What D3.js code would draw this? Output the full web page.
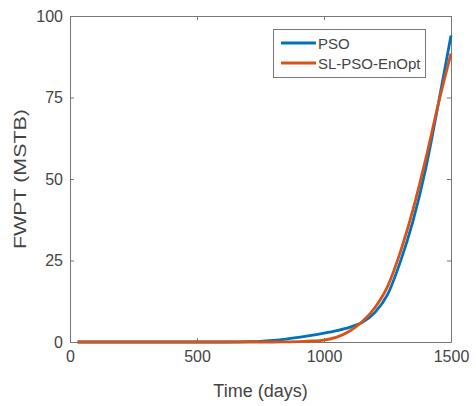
<!DOCTYPE html>
<html>
<head>
<meta charset="utf-8">
<script src="https://cdn.jsdelivr.net/npm/d3@7"></script>
<style>
  body { margin: 0; background: #fff; }
  svg text { font-family: "Liberation Sans", Arial, sans-serif; fill: #444; }
</style>
</head>
<body>
<svg id="chart" width="476" height="406"></svg>
<script>
// time axis (days) shared by both runs
var days  = [30, 200, 400, 600, 700, 750, 800, 850, 900, 950, 1000, 1050, 1100, 1150, 1200, 1250, 1300, 1350, 1400, 1450, 1500]
// FWPT in MSTB
var pso   = [0, 0, 0, 0, 0.1, 0.2, 0.5, 0.9, 1.4, 2.0, 2.7, 3.5, 4.5, 6.0, 9.0, 14.5, 24.5, 37, 53, 73, 94]
var slpso = [0, 0, 0, 0, 0, 0, 0, 0.05, 0.1, 0.3, 0.6, 1.5, 3.3, 6.2, 10.5, 17, 27.5, 40.5, 56, 73, 88.5]

var seriesNames = ["PSO", "SL-PSO-EnOpt"]
var seriesColors = ["#0072BD", "#D95319"]
var xTicks = [0, 500, 1000, 1500]
var yTicks = [0, 25, 50, 75, 100]

var plotL = 70, plotR = 451, plotT = 16, plotB = 342
var svg = d3.select("#chart")

var x = d3.scaleLinear().domain([0, 1500]).range([plotL, plotR])
var y = d3.scaleLinear().domain([0, 100]).range([plotB, plotT])

var axisColor = "#777"
var fmt = d3.format("d")

// bottom axis, ticks inside
var gx = svg.append("g")
  .attr("transform", "translate(0," + plotB + ")")
  .call(d3.axisBottom(x).tickValues(xTicks).tickFormat(fmt).tickSize(-4).tickPadding(9).tickSizeOuter(0))
gx.selectAll("text").attr("font-size", 16).attr("fill", "#444")

// top axis, ticks only
svg.append("g")
  .attr("transform", "translate(0," + plotT + ")")
  .call(d3.axisTop(x).tickValues(xTicks).tickSize(-4).tickFormat("").tickSizeOuter(0))

// left axis
var gy = svg.append("g")
  .attr("transform", "translate(" + plotL + ",0)")
  .call(d3.axisLeft(y).tickValues(yTicks).tickFormat(fmt).tickSize(-4).tickPadding(7).tickSizeOuter(0))
gy.selectAll("text").attr("font-size", 16).attr("fill", "#444")

// right axis, ticks only
svg.append("g")
  .attr("transform", "translate(" + plotR + ",0)")
  .call(d3.axisRight(y).tickValues(yTicks).tickSize(-4).tickFormat("").tickSizeOuter(0))

svg.selectAll(".domain").attr("stroke", axisColor)
svg.selectAll(".tick line").attr("stroke", axisColor)

// axis labels
svg.append("text")
  .attr("x", (plotL + plotR) / 2)
  .attr("y", 397)
  .attr("text-anchor", "middle")
  .attr("font-size", 18)
  .text("Time (days)")

svg.append("text")
  .attr("transform", "translate(26," + ((plotT + plotB) / 2) + ") rotate(-90)")
  .attr("text-anchor", "middle")
  .attr("font-size", 16)
  .attr("textLength", 140)
  .attr("lengthAdjust", "spacingAndGlyphs")
  .text("FWPT (MSTB)")

// lines
var line = d3.line()
  .x(function (d) { return x(d[0]) })
  .y(function (d) { return y(d[1]) })
  .curve(d3.curveMonotoneX)

var series = [pso, slpso]
series.forEach(function (vals, i) {
  svg.append("path")
    .datum(days.map(function (t, j) { return [t, vals[j]] }))
    .attr("fill", "none")
    .attr("stroke", seriesColors[i])
    .attr("stroke-width", 2.8)
    .attr("d", line)
})

// legend
var lg = svg.append("g")
lg.append("rect")
  .attr("x", 273.5).attr("y", 29.5)
  .attr("width", 152).attr("height", 48)
  .attr("fill", "#fff")
  .attr("stroke", axisColor)

seriesNames.forEach(function (name, i) {
  var ly = 43 + i * 20
  lg.append("line")
    .attr("x1", 281).attr("x2", 316)
    .attr("y1", ly).attr("y2", ly)
    .attr("stroke", seriesColors[i])
    .attr("stroke-width", 2.8)
  lg.append("text")
    .attr("x", 318)
    .attr("y", ly + 6)
    .attr("font-size", 15)
    .text(name)
})
</script>
</body>
</html>
